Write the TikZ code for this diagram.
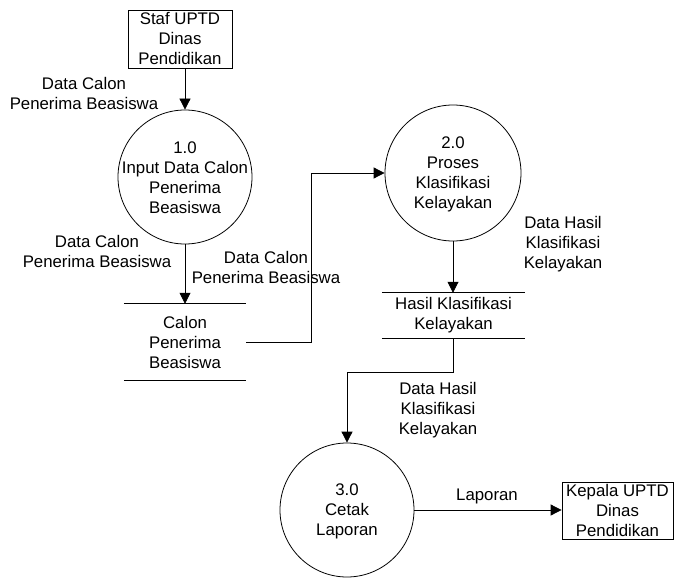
\documentclass[tikz,border=0pt]{standalone}
\usepackage{fontspec}
\setmainfont{Liberation Sans}
\usetikzlibrary{arrows.meta}
\begin{document}
\begin{tikzpicture}[x=1pt,y=-1pt,
  every node/.style={font=\fontsize{16.8}{20}\selectfont},
  proc/.style={draw,circle,line width=0.8pt,minimum size=#1,inner sep=0pt},
  ent/.style={draw,rectangle,line width=0.8pt,align=center,inner sep=0pt},
  store/.style={rectangle,align=center,inner sep=0pt},
  txt/.style={align=center,inner sep=0pt},
  flow/.style={line width=0.8pt,-{Triangle[length=11pt,width=11pt]}},
  sline/.style={line width=0.8pt}]
\useasboundingbox (0,0) rectangle (675,578);

% entities
\node[ent,minimum width=104pt,minimum height=58pt] (s1) at (180,39) {Staf UPTD\\Dinas\\Pendidikan};
\node[ent,minimum width=111pt,minimum height=57pt] (k1) at (617.5,510.5) {Kepala UPTD\\Dinas\\Pendidikan};

% processes
\node[proc=134pt] (p1) at (185,177) {};
\node[txt] (p1t) at (185,178) {1.0\\Input Data Calon\\Penerima\\Beasiswa};
\node[proc=136pt] (p2) at (453,173) {};
\node[txt] (p2t) at (453,174) {2.0\\Proses\\Klasifikasi\\Kelayakan};
\node[proc=134pt] (p3) at (347,510) {};
\node[txt] (p3t) at (347,511) {3.0\\Cetak\\Laporan};

% data stores
\node[store,minimum width=122pt,minimum height=76pt] (d1) at (185,342) {Calon\\Penerima\\Beasiswa};
\draw[sline] (d1.north west) -- (d1.north east);
\draw[sline] (d1.south west) -- (d1.south east);
\node[store,minimum width=143pt,minimum height=45pt] (d2) at (453.5,315.5) {Hasil Klasifikasi\\Kelayakan};
\draw[sline] (d2.north west) -- (d2.north east);
\draw[sline] (d2.south west) -- (d2.south east);

% flows
\draw[flow] (s1.south -| p1) -- (p1.north);
\draw[flow] (p1.south) -- (p1.south |- d1.north);
\coordinate (b1) at (311,342);
\draw[flow] (d1.east) -- (b1) |- (p2.west);
\draw[flow] (p2.south) -- (p2.south |- d2.north);
\coordinate (b2) at (453,372);
\draw[flow] (d2.south -| b2) -- (b2) -| (p3.north);
\draw[flow] (p3.east) -- (p3.east -| k1.west);

% flow labels
\node[txt] (l1) at (84,93) {Data Calon\\Penerima Beasiswa};
\node[txt] (l2) at (97,251) {Data Calon\\Penerima Beasiswa};
\node[txt] (l3) at (266,267) {Data Calon\\Penerima Beasiswa};
\node[txt] (l4) at (563,244) {Data Hasil\\Klasifikasi\\Kelayakan};
\node[txt] (l5) at (438,410) {Data Hasil\\Klasifikasi\\Kelayakan};
\node[txt] (l6) at (487,496) {Laporan};
\end{tikzpicture}
\end{document}
